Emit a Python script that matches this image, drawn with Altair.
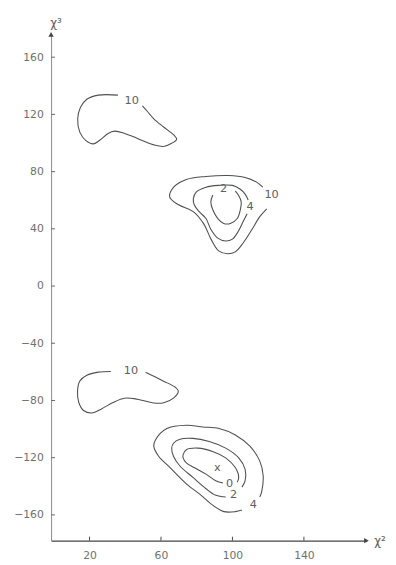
import altair as alt
import pandas as pd

# ---- contour lines (data coordinates) ----
# top-left, level 10
a_x = [35.9, 24.9, 18.5, 14.9, 13.4, 14.5, 18.0, 22.2, 25.9, 30.4, 34.1, 39.6, 46.8, 56.0, 61.5, 66.0, 68.8, 67.3, 61.5, 56.0, 52.3, 49.6]
a_y = [133.5, 133.5, 130.6, 124.9, 116.9, 107.8, 101.7, 99.4, 102.1, 106.7, 108.3, 106.7, 103.2, 98.7, 97.6, 99.8, 102.6, 105.5, 111.2, 116.9, 122.2, 126.0]
# bottom-left, level 10
b_x = [31.9, 24.9, 18.5, 14.5, 13.3, 14.0, 16.7, 21.3, 26.7, 33.2, 39.6, 46.8, 56.0, 61.5, 67.0, 69.7, 67.8, 61.5, 56.0, 51.4]
b_y = [-59.7, -60.2, -62.4, -66.5, -73.4, -81.4, -87.0, -88.7, -85.9, -81.4, -78.4, -79.1, -81.8, -81.6, -78.4, -73.4, -70.6, -66.5, -63.1, -60.2]
# upper-right group: levels 10, 4, 2
c10_x = [117.0, 113.7, 107.1, 97.8, 85.2, 74.2, 67.1, 64.9, 69.9, 78.1, 84.1, 88.0, 92.3, 97.3, 101.6, 106.0, 111.0, 115.3, 119.2]
c10_y = [69.1, 72.5, 75.9, 77.3, 76.6, 74.5, 69.1, 62.2, 56.8, 52.0, 43.1, 32.8, 24.6, 22.6, 23.9, 30.1, 39.7, 48.5, 54.0]
c4_x = [108.2, 106.0, 103.3, 100.0, 96.2, 91.8, 87.9, 85.2, 81.4, 78.6, 78.1, 79.7, 85.2, 92.3, 100.0, 104.4, 107.1, 108.8]
c4_y = [50.6, 45.1, 38.3, 32.8, 31.5, 33.5, 39.7, 47.2, 52.0, 56.8, 60.9, 65.6, 69.1, 70.4, 70.4, 67.7, 64.3, 60.2]
c2_x = [89.0, 87.9, 89.0, 91.8, 95.1, 98.9, 102.7, 104.4, 104.9, 103.3, 101.6]
c2_y = [63.6, 58.8, 53.3, 47.2, 43.8, 43.8, 47.2, 53.3, 58.8, 63.6, 66.3]
# lower-right group: levels 4, 2, 0
d4_x = [115.3, 116.3, 117.2, 115.3, 109.9, 101.6, 92.5, 83.4, 74.2, 63.3, 56.9, 56.0, 58.7, 65.1, 74.2, 82.5, 88.9, 95.2, 101.6, 105.3]
d4_y = [-147.5, -144.1, -132.6, -122.4, -112.1, -104.1, -99.6, -98.5, -97.3, -99.6, -107.6, -112.1, -119.0, -127.0, -138.3, -146.3, -153.2, -157.7, -157.7, -156.6]
d2_x = [105.3, 107.1, 107.1, 103.5, 96.2, 87.0, 77.9, 70.6, 67.0, 66.0, 67.0, 70.6, 77.9, 85.2, 90.7, 96.2]
d2_y = [-140.6, -136.1, -128.1, -120.1, -113.3, -108.7, -106.5, -107.1, -109.9, -113.3, -119.0, -125.8, -133.8, -141.7, -146.3, -147.5]
d0_x = [102.6, 103.5, 101.6, 96.2, 88.9, 80.7, 74.2, 72.4, 72.4, 74.2, 78.8, 85.2, 90.7, 94.7]
d0_y = [-137.2, -133.8, -126.9, -120.1, -115.6, -113.3, -114.4, -117.8, -120.1, -123.6, -127.0, -131.5, -136.1, -137.7]

# ---- contour labels ----
lab_text = ["10", "10", "10", "4", "2", "4", "2", "0", "x"]
lab_x = [43.6, 43.2, 121.9, 109.9, 95.1, 111.7, 100.7, 98.4, 91.6]
lab_y = [129.4, -59.7, 63.6, 55.4, 67.7, -153.2, -146.3, -138.3, -127.0]

# ---- axes ----
x_ticks = [20, 60, 100, 140]
y_ticks = [-160, -120, -80, -40, 0, 40, 80, 120, 160]
x_domain = [-1.5, 175]
y_domain = [-178, 176]

rows = []
for cid, (xs_, ys_) in enumerate([(a_x, a_y), (b_x, b_y), (c10_x, c10_y), (c4_x, c4_y),
                                   (c2_x, c2_y), (d4_x, d4_y), (d2_x, d2_y), (d0_x, d0_y)]):
    for i, (x, y) in enumerate(zip(xs_, ys_)):
        rows.append({"cid": cid, "i": i, "x": x, "y": y})
lines_df = pd.DataFrame(rows)
labels_df = pd.DataFrame({"t": lab_text, "x": lab_x, "y": lab_y})

xs = alt.Scale(domain=x_domain, nice=False, zero=False)
ys = alt.Scale(domain=y_domain, nice=False, zero=False)

FONT = "DejaVu Sans"
GRAY = "#505050"
LABEL = "#707070"

lines = alt.Chart(lines_df).mark_line(
    color=GRAY, strokeWidth=1.1, interpolate="catmull-rom"
).encode(
    x=alt.X("x:Q", scale=xs, axis=alt.Axis(values=x_ticks, ticks=False, grid=False, title=None,
                                           labelPadding=9, labelFontSize=11, labelColor=LABEL,
                                           labelFont=FONT, domainColor="#444444", domainWidth=1.2)),
    y=alt.Y("y:Q", scale=ys, axis=alt.Axis(values=y_ticks, ticks=False, grid=False, title=None,
                                           labelPadding=8, labelFontSize=11, labelColor=LABEL,
                                           labelFont=FONT, domainColor="#8a8a8a", domainWidth=1)),
    detail="cid:N",
    order="i:Q",
)

labels = alt.Chart(labels_df).mark_text(
    font=FONT, fontSize=11.5, color="#606060", align="center", baseline="middle"
).encode(x=alt.X("x:Q", scale=xs), y=alt.Y("y:Q", scale=ys), text="t:N")

ytick_df = pd.DataFrame({"v": y_ticks})
xtick_df = pd.DataFrame({"v": x_ticks})
yticks = alt.Chart(ytick_df).mark_rule(color="#666666", strokeWidth=1).encode(
    y=alt.Y("v:Q", scale=ys), x=alt.value(0), x2=alt.value(4))
xticks = alt.Chart(xtick_df).mark_rule(color="#444444", strokeWidth=1).encode(
    x=alt.X("v:Q", scale=xs), y=alt.value(517), y2=alt.value(513))

arrow_df = pd.DataFrame({
    "x": [x_domain[0], x_domain[1]],
    "y": [y_domain[1], y_domain[0]],
    "shape": ["triangle-up", "triangle-right"],
    "title": ["χ³", "χ²"],
})
arrows = alt.Chart(arrow_df).mark_point(filled=True, size=30, color="#444444", opacity=1).encode(
    x=alt.X("x:Q", scale=xs), y=alt.Y("y:Q", scale=ys),
    shape=alt.Shape("shape:N", scale=None))

ytitle = alt.Chart(arrow_df.iloc[[0]]).mark_text(
    font=FONT, fontSize=12, color="#606060", align="center", baseline="middle", dx=5, dy=-11
).encode(x=alt.X("x:Q", scale=xs), y=alt.Y("y:Q", scale=ys), text="title:N")
xtitle = alt.Chart(arrow_df.iloc[[1]]).mark_text(
    font=FONT, fontSize=12, color="#606060", align="left", baseline="middle", dx=8, dy=0
).encode(x=alt.X("x:Q", scale=xs), y=alt.Y("y:Q", scale=ys), text="title:N")

chart = alt.layer(lines, labels, yticks, xticks, arrows, ytitle, xtitle).properties(
    width=322, height=517,
    autosize=alt.AutoSizeParams(type="none"),
    padding={"left": 44, "top": 21, "right": 22, "bottom": 19},
).configure_view(stroke=None)

chart.save("out.html", embed_options={"renderer": "svg", "actions": False})
